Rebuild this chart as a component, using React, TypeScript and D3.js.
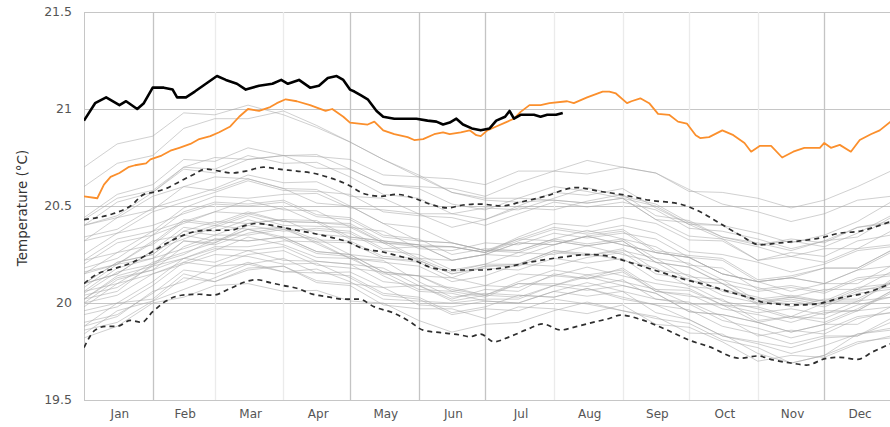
import React from "react";
import * as d3 from "d3";

// ---------- data ----------
const yTicks = [19.5, 20, 20.5, 21, 21.5];
const monthLabels = ["Jan", "Feb", "Mar", "Apr", "May", "Jun", "Jul", "Aug", "Sep", "Oct", "Nov", "Dec"];
const monthStartDays = [0, 31, 59, 90, 120, 151, 181, 212, 243, 273, 304, 334, 365];
const emphasizedMonthLines = ["Feb", "May", "Jun", "Jul", "Dec"];

// 1982-2011 climatological mean at the knot days used for the older years
const knotDays = [0, 15, 31, 45, 59, 74, 90, 105, 120, 135, 151, 166, 181, 196, 212, 227, 243, 258, 273, 288, 304, 319, 334, 349, 364];
const climatologyAtKnots = [20.1, 20.18, 20.26, 20.35, 20.37, 20.4, 20.39, 20.355, 20.31, 20.26, 20.21, 20.17, 20.17, 20.2, 20.23, 20.245, 20.24, 20.17, 20.115, 20.07, 20.0, 19.99, 20.0, 20.04, 20.1];

// earlier years, as departures from the climatological mean at the knot days
const grayYears = [1982, 1983, 1984, 1985, 1986, 1987, 1988, 1989, 1990, 1991, 1992, 1993, 1994, 1995, 1996, 1997, 1998, 1999, 2000, 2001, 2002, 2003, 2004, 2005, 2006, 2007, 2008, 2009, 2010, 2011, 2012, 2013, 2014, 2015, 2016, 2017, 2018, 2019, 2020, 2021, 2022];
const grayAnomalies = [
  [-0.22,-0.25,-0.2,-0.24,-0.18,-0.2,-0.16,-0.2,-0.15,-0.18,-0.12,-0.15,-0.1,-0.14,-0.08,-0.12,-0.06,-0.1,-0.05,-0.08,-0.02,-0.06,0.0,-0.04,0.02],
  [0.05,0.02,0.06,0.0,0.03,-0.02,0.0,-0.05,-0.08,-0.04,-0.1,-0.14,-0.12,-0.16,-0.2,-0.17,-0.22,-0.18,-0.2,-0.24,-0.2,-0.22,-0.18,-0.21,-0.2],
  [-0.22,-0.18,-0.24,-0.2,-0.26,-0.22,-0.2,-0.25,-0.22,-0.27,-0.24,-0.2,-0.25,-0.22,-0.26,-0.3,-0.25,-0.28,-0.24,-0.27,-0.3,-0.26,-0.28,-0.25,-0.27],
  [-0.28,-0.3,-0.26,-0.32,-0.28,-0.3,-0.33,-0.29,-0.3,-0.26,-0.3,-0.32,-0.28,-0.3,-0.27,-0.24,-0.28,-0.25,-0.22,-0.26,-0.23,-0.3,-0.27,-0.2,-0.23],
  [-0.26,-0.22,-0.25,-0.28,-0.24,-0.2,-0.23,-0.18,-0.2,-0.24,-0.2,-0.17,-0.15,-0.18,-0.14,-0.1,-0.13,-0.1,-0.12,-0.08,-0.1,-0.06,-0.08,-0.05,-0.07],
  [-0.08,-0.12,-0.06,-0.1,-0.04,-0.08,-0.05,-0.02,-0.06,-0.03,0.0,-0.04,0.02,0.0,0.04,0.0,0.03,0.06,0.02,0.05,0.01,0.04,0.0,0.03,-0.02],
  [-0.02,0.02,-0.03,0.0,-0.05,-0.02,-0.06,-0.1,-0.07,-0.12,-0.15,-0.12,-0.16,-0.2,-0.17,-0.21,-0.18,-0.22,-0.2,-0.24,-0.21,-0.25,-0.22,-0.2,-0.24],
  [-0.24,-0.28,-0.25,-0.22,-0.26,-0.23,-0.2,-0.24,-0.21,-0.18,-0.22,-0.19,-0.16,-0.2,-0.17,-0.14,-0.18,-0.15,-0.12,-0.16,-0.13,-0.17,-0.14,-0.11,-0.15],
  [-0.12,-0.08,-0.11,-0.14,-0.1,-0.06,-0.09,-0.12,-0.08,-0.11,-0.07,-0.1,-0.13,-0.09,-0.06,-0.1,-0.07,-0.11,-0.08,-0.05,-0.09,-0.06,-0.1,-0.07,-0.04],
  [-0.06,-0.1,-0.07,-0.12,-0.09,-0.13,-0.1,-0.14,-0.11,-0.08,-0.12,-0.09,-0.13,-0.1,-0.14,-0.11,-0.15,-0.12,-0.16,-0.13,-0.1,-0.14,-0.11,-0.15,-0.12],
  [-0.1,-0.14,-0.11,-0.15,-0.12,-0.16,-0.19,-0.15,-0.18,-0.22,-0.19,-0.23,-0.2,-0.24,-0.21,-0.25,-0.28,-0.24,-0.27,-0.23,-0.26,-0.3,-0.27,-0.24,-0.28],
  [-0.2,-0.24,-0.21,-0.18,-0.22,-0.19,-0.23,-0.2,-0.17,-0.21,-0.18,-0.22,-0.19,-0.16,-0.2,-0.17,-0.21,-0.18,-0.15,-0.19,-0.16,-0.2,-0.17,-0.21,-0.18],
  [-0.16,-0.2,-0.17,-0.14,-0.18,-0.15,-0.12,-0.16,-0.13,-0.1,-0.14,-0.11,-0.08,-0.12,-0.09,-0.06,-0.1,-0.07,-0.04,-0.08,-0.05,-0.02,-0.06,-0.03,-0.07],
  [-0.04,0.0,-0.03,-0.07,-0.04,-0.08,-0.05,-0.09,-0.06,-0.1,-0.07,-0.11,-0.14,-0.1,-0.13,-0.16,-0.12,-0.15,-0.11,-0.14,-0.17,-0.13,-0.16,-0.12,-0.15],
  [-0.14,-0.18,-0.15,-0.12,-0.16,-0.13,-0.17,-0.14,-0.11,-0.15,-0.12,-0.16,-0.13,-0.17,-0.14,-0.18,-0.15,-0.12,-0.16,-0.13,-0.1,-0.14,-0.11,-0.08,-0.12],
  [-0.08,-0.04,-0.07,-0.03,-0.06,0.0,-0.02,0.03,0.06,0.02,0.08,0.12,0.09,0.14,0.18,0.15,0.2,0.24,0.21,0.25,0.22,0.27,0.24,0.28,0.25],
  [0.3,0.26,0.29,0.25,0.28,0.24,0.2,0.23,0.19,0.15,0.18,0.14,0.1,0.13,0.09,0.05,0.08,0.04,0.07,0.03,0.0,0.04,0.01,-0.03,0.0],
  [-0.04,-0.08,-0.05,-0.09,-0.06,-0.02,-0.05,-0.09,-0.06,-0.1,-0.07,-0.04,-0.08,-0.05,-0.09,-0.12,-0.08,-0.11,-0.07,-0.1,-0.06,-0.09,-0.05,-0.08,-0.04],
  [-0.1,-0.06,-0.09,-0.12,-0.08,-0.11,-0.07,-0.04,-0.08,-0.05,-0.02,-0.06,-0.03,0.0,-0.04,-0.01,0.02,-0.02,0.01,-0.03,0.0,0.03,-0.01,0.02,0.0],
  [0.0,-0.03,0.01,0.04,0.0,0.03,-0.01,0.02,0.05,0.01,0.04,0.0,0.03,0.06,0.02,0.05,0.08,0.04,0.07,0.03,0.06,0.09,0.05,0.08,0.04],
  [0.05,0.08,0.04,0.07,0.03,0.06,0.1,0.06,0.09,0.05,0.08,0.12,0.09,0.12,0.15,0.11,0.14,0.1,0.13,0.16,0.12,0.15,0.18,0.14,0.17],
  [0.15,0.18,0.14,0.11,0.14,0.1,0.13,0.09,0.12,0.08,0.11,0.14,0.1,0.07,0.1,0.06,0.09,0.12,0.08,0.11,0.07,0.1,0.06,0.09,0.05],
  [0.06,0.02,0.05,0.08,0.04,0.07,0.03,0.06,0.1,0.06,0.09,0.05,0.08,0.11,0.07,0.1,0.13,0.09,0.12,0.08,0.11,0.14,0.1,0.13,0.09],
  [0.1,0.13,0.09,0.12,0.15,0.11,0.14,0.1,0.13,0.09,0.12,0.08,0.11,0.07,0.1,0.13,0.09,0.06,0.09,0.05,0.08,0.04,0.07,0.03,0.06],
  [0.0,0.03,-0.01,0.02,-0.02,0.01,0.04,0.0,0.03,0.06,0.02,0.05,0.08,0.04,0.07,0.1,0.06,0.09,0.12,0.08,0.11,0.14,0.1,0.13,0.16],
  [0.12,0.08,0.11,0.07,0.1,0.06,0.03,0.06,0.02,0.05,0.01,-0.02,0.01,-0.03,0.0,-0.04,-0.01,-0.05,-0.02,-0.06,-0.03,-0.07,-0.04,-0.08,-0.05],
  [-0.08,-0.05,-0.09,-0.06,-0.02,-0.05,-0.01,-0.04,0.0,-0.03,0.01,-0.02,0.02,-0.01,0.03,0.0,0.04,0.0,0.03,-0.01,0.02,0.05,0.01,0.04,0.0],
  [0.0,-0.03,0.01,-0.02,0.02,0.05,0.01,0.04,0.08,0.05,0.09,0.12,0.09,0.13,0.16,0.12,0.16,0.19,0.15,0.18,0.21,0.17,0.2,0.23,0.19],
  [0.22,0.26,0.22,0.25,0.21,0.24,0.2,0.16,0.19,0.15,0.11,0.14,0.1,0.06,0.09,0.05,0.01,0.04,0.0,0.03,-0.01,0.02,-0.02,0.01,-0.03],
  [-0.05,-0.02,-0.06,-0.03,-0.07,-0.04,0.0,-0.03,0.01,-0.02,0.02,-0.01,0.03,0.0,0.04,0.01,-0.02,0.01,-0.03,0.0,0.03,-0.01,0.02,-0.02,0.01],
  [0.0,0.03,-0.01,0.02,0.05,0.01,0.04,0.07,0.03,0.06,0.09,0.05,0.08,0.11,0.07,0.1,0.06,0.09,0.12,0.08,0.11,0.07,0.1,0.06,0.09],
  [0.08,0.05,0.09,0.06,0.1,0.13,0.09,0.12,0.08,0.11,0.07,0.1,0.14,0.1,0.13,0.09,0.12,0.16,0.12,0.15,0.11,0.14,0.18,0.14,0.17],
  [0.12,0.15,0.11,0.14,0.18,0.14,0.17,0.21,0.18,0.22,0.25,0.22,0.26,0.29,0.25,0.28,0.32,0.28,0.31,0.27,0.3,0.33,0.29,0.32,0.35],
  [0.3,0.27,0.31,0.34,0.3,0.34,0.37,0.34,0.38,0.35,0.39,0.42,0.38,0.42,0.45,0.42,0.46,0.5,0.46,0.5,0.54,0.5,0.53,0.56,0.58],
  [0.6,0.64,0.6,0.63,0.6,0.62,0.58,0.55,0.52,0.48,0.44,0.4,0.36,0.32,0.3,0.27,0.3,0.26,0.3,0.27,0.31,0.28,0.32,0.3,0.34],
  [0.34,0.38,0.35,0.39,0.36,0.4,0.37,0.41,0.38,0.35,0.38,0.34,0.31,0.34,0.3,0.27,0.3,0.26,0.23,0.26,0.22,0.25,0.21,0.24,0.2],
  [0.22,0.18,0.21,0.17,0.2,0.23,0.19,0.22,0.25,0.21,0.24,0.27,0.23,0.26,0.29,0.25,0.28,0.31,0.27,0.3,0.33,0.29,0.32,0.35,0.31],
  [0.33,0.36,0.32,0.35,0.38,0.34,0.37,0.4,0.43,0.4,0.44,0.47,0.44,0.48,0.45,0.49,0.46,0.5,0.47,0.44,0.47,0.43,0.46,0.49,0.45],
  [0.5,0.54,0.5,0.55,0.58,0.55,0.6,0.56,0.52,0.48,0.45,0.4,0.37,0.34,0.37,0.33,0.3,0.33,0.29,0.26,0.29,0.25,0.28,0.24,0.27],
  [0.24,0.2,0.23,0.19,0.22,0.26,0.23,0.27,0.24,0.28,0.25,0.29,0.26,0.3,0.34,0.31,0.35,0.32,0.29,0.33,0.3,0.34,0.31,0.35,0.32],
  [0.3,0.34,0.31,0.35,0.32,0.36,0.33,0.37,0.34,0.3,0.33,0.29,0.32,0.28,0.31,0.35,0.31,0.34,0.3,0.33,0.36,0.32,0.35,0.38,0.42],
];

// 2023 (orange)
const days2023 = [0,6,9,12,16,20,23,28,30,35,39,43,48,52,57,61,66,70,74,79,84,87,91,96,102,109,112,117,120,128,131,135,140,146,149,153,158,162,165,170,174,177,179,182,186,190,194,197,201,206,210,218,221,227,234,237,240,245,247,251,255,259,264,268,272,276,278,282,288,293,298,301,305,310,315,320,325,332,334,337,341,346,350,355,359,364];
const values2023 = [20.55,20.54,20.61,20.65,20.67,20.7,20.71,20.72,20.74,20.76,20.785,20.8,20.82,20.845,20.86,20.88,20.91,20.96,21.0,20.99,21.01,21.03,21.05,21.04,21.02,20.99,21.0,20.96,20.93,20.92,20.935,20.89,20.87,20.855,20.84,20.845,20.87,20.88,20.87,20.88,20.89,20.865,20.86,20.89,20.91,20.93,20.95,20.985,21.02,21.02,21.03,21.04,21.03,21.06,21.09,21.09,21.08,21.03,21.04,21.055,21.03,20.975,20.97,20.935,20.925,20.865,20.85,20.855,20.89,20.865,20.825,20.78,20.81,20.81,20.75,20.78,20.8,20.8,20.825,20.8,20.815,20.78,20.84,20.87,20.89,20.935];

// 2024 (black)
const days2024 = [0,5,10,16,19,24,27,31,36,40,42,46,50,55,60,64,69,73,79,85,89,92,97,102,106,110,114,117,120,122,125,128,132,135,140,150,155,159,162,165,168,171,175,179,183,186,190,192,194,197,203,206,209,213,216];
const values2024 = [20.94,21.03,21.06,21.02,21.04,21.0,21.03,21.11,21.11,21.1,21.06,21.06,21.09,21.13,21.17,21.15,21.13,21.1,21.12,21.13,21.15,21.13,21.15,21.11,21.12,21.16,21.17,21.15,21.1,21.09,21.07,21.05,20.99,20.96,20.95,20.95,20.94,20.935,20.92,20.93,20.95,20.92,20.9,20.89,20.9,20.94,20.96,20.99,20.95,20.97,20.97,20.96,20.97,20.97,20.98];

// 1982-2011 mean and +/- 2 standard deviations (dashed)
const meanDays = [0,6,13,21,28,36,43,51,58,66,73,78,85,96,103,111,119,126,134,141,149,156,164,179,188,201,215,228,237,246,260,273,282,289,301,308,323,332,341,352,364];
const meanValues = [20.1,20.15,20.175,20.205,20.245,20.3,20.34,20.37,20.375,20.375,20.4,20.41,20.4,20.375,20.36,20.34,20.315,20.28,20.265,20.245,20.22,20.185,20.17,20.17,20.18,20.21,20.235,20.25,20.24,20.21,20.16,20.115,20.09,20.065,20.025,20.0,19.99,19.998,20.025,20.05,20.1];
const upperDays = [0,6,13,21,27,31,37,43,49,55,61,67,73,81,88,96,103,111,119,126,134,141,149,156,164,171,179,188,197,208,222,233,242,255,269,278,287,296,305,314,323,332,341,350,359,364];
const upperValues = [20.43,20.44,20.46,20.5,20.56,20.57,20.59,20.625,20.66,20.69,20.68,20.67,20.68,20.7,20.69,20.68,20.67,20.645,20.61,20.565,20.55,20.56,20.54,20.51,20.49,20.505,20.51,20.5,20.52,20.55,20.595,20.575,20.56,20.53,20.51,20.47,20.41,20.35,20.3,20.31,20.32,20.335,20.36,20.37,20.4,20.42];
const lowerDays = [0,5,10,15,21,26,31,37,44,52,58,66,73,78,84,90,96,103,110,117,124,131,140,147,153,161,170,174,179,185,192,200,207,215,222,231,237,242,251,263,273,282,296,304,311,320,326,335,341,349,356,364];
const lowerValues = [19.77,19.86,19.88,19.88,19.91,19.9,19.955,20.01,20.04,20.045,20.04,20.075,20.11,20.12,20.105,20.09,20.076,20.046,20.032,20.02,20.02,19.98,19.947,19.904,19.86,19.847,19.835,19.826,19.84,19.8,19.826,19.864,19.892,19.861,19.878,19.904,19.92,19.938,19.916,19.861,19.809,19.775,19.715,19.727,19.706,19.689,19.68,19.715,19.72,19.709,19.749,19.79];

// ---------- chart ----------
const W = 890;
const H = 427;
const plotLeft = 84;
const plotTop = 12;
const plotBottom = 400;
const pxPerDay = 2.2164;

export default function App() {
  const x = d3.scaleLinear().domain([0, 365]).range([plotLeft, plotLeft + 365 * pxPerDay]);
  const y = d3.scaleLinear().domain([19.5, 21.5]).range([plotBottom, plotTop]);

  const lineXY = d3
    .line<[number, number]>()
    .x((d) => x(d[0]))
    .y((d) => y(d[1]))
    .curve(d3.curveLinear);
  const smoothXY = d3
    .line<[number, number]>()
    .x((d) => x(d[0]))
    .y((d) => y(d[1]))
    .curve(d3.curveMonotoneX);

  const zip = (ds: number[], vs: number[]) => ds.map((d, i) => [d, vs[i]] as [number, number]);

  const grayPaths = grayAnomalies.map((row) =>
    lineXY(knotDays.map((d, i) => [d, climatologyAtKnots[i] + row[i]] as [number, number]))
  );

  const font = "'DejaVu Sans', Verdana, sans-serif";

  return (
    <div style={{ position: "fixed", left: 0, top: 0, width: W, height: H, background: "#fff" }}>
      <svg width={W} height={H} style={{ display: "block" }}>
        <defs>
          <clipPath id="plotClip">
            <rect x={plotLeft} y={plotTop - 2} width={W - plotLeft} height={plotBottom - plotTop + 4} />
          </clipPath>
        </defs>

        {/* horizontal grid */}
        {yTicks.map((t) => (
          <line
            key={"h" + t}
            x1={plotLeft}
            x2={W}
            y1={Math.round(y(t)) + 0.5}
            y2={Math.round(y(t)) + 0.5}
            stroke="#c6c6c6"
            strokeWidth={1}
          />
        ))}

        {/* vertical month grid */}
        {monthStartDays.slice(0, 12).map((d, i) => (
          <line
            key={"v" + i}
            x1={Math.round(x(d)) + 0.5}
            x2={Math.round(x(d)) + 0.5}
            y1={plotTop}
            y2={plotBottom}
            stroke={i === 0 ? "#c6c6c6" : emphasizedMonthLines.includes(monthLabels[i]) ? "#c4c4c4" : "#ebebeb"}
            strokeWidth={i === 0 ? 1 : 1.3}
          />
        ))}

        <g clipPath="url(#plotClip)">
          {grayPaths.map((p, i) => (
            <path key={"g" + grayYears[i]} d={p || ""} fill="none" stroke="#a8a8a8" strokeOpacity={0.6} strokeWidth={0.9} />
          ))}

          <path d={smoothXY(zip(upperDays, upperValues)) || ""} fill="none" stroke="#2e2e2e" strokeWidth={1.7} strokeDasharray="5,4" />
          <path d={smoothXY(zip(meanDays, meanValues)) || ""} fill="none" stroke="#2e2e2e" strokeWidth={1.7} strokeDasharray="5,4" />
          <path d={smoothXY(zip(lowerDays, lowerValues)) || ""} fill="none" stroke="#2e2e2e" strokeWidth={1.7} strokeDasharray="5,4" />

          <path d={lineXY(zip(days2023, values2023)) || ""} fill="none" stroke="#fb8f2c" strokeWidth={1.8} strokeLinejoin="round" />
          <path d={lineXY(zip(days2024, values2024)) || ""} fill="none" stroke="#000" strokeWidth={2.6} strokeLinejoin="round" />
        </g>

        {/* y tick labels */}
        {yTicks.map((t) => (
          <text
            key={"yt" + t}
            x={72}
            y={y(t)}
            dy="0.35em"
            textAnchor="end"
            fontFamily={font}
            fontSize={12.5}
            fill="#555"
          >
            {t}
          </text>
        ))}

        {/* month labels */}
        {monthLabels.map((m, i) => (
          <text
            key={"m" + m}
            x={x((monthStartDays[i] + monthStartDays[i + 1]) / 2) + 1.5}
            y={414}
            dy="0.35em"
            textAnchor="middle"
            fontFamily={font}
            fontSize={12}
            fill="#555"
          >
            {m}
          </text>
        ))}

        {/* y axis title */}
        <text
          transform={`translate(22, ${(plotTop + plotBottom) / 2 + 2}) rotate(-90)`}
          textAnchor="middle"
          dy="0.35em"
          fontFamily={font}
          fontSize={13.5}
          fill="#333"
        >
          Temperature (°C)
        </text>
      </svg>
    </div>
  );
}
